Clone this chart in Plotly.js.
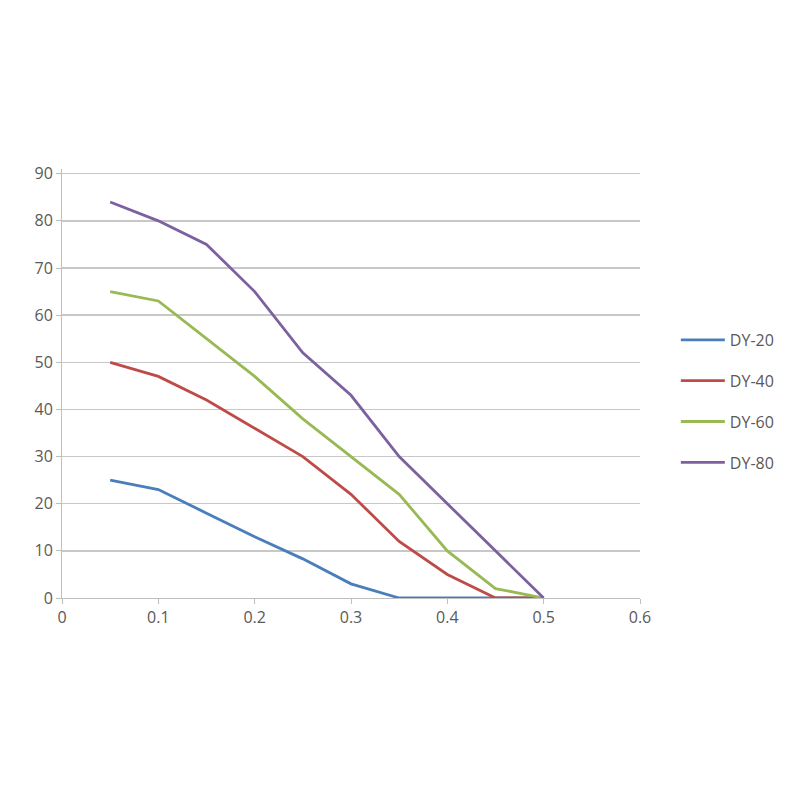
<!DOCTYPE html>
<html>
<head>
<meta charset="utf-8">
<script src="https://cdn.plot.ly/plotly-3.0.1.min.js"></script>
<style>html,body{margin:0;padding:0;background:#fff;}#chart{width:800px;height:800px;}</style>
</head>
<body>
<div id="chart"></div>
<script>
const xValues = [0.05, 0.1, 0.15, 0.2, 0.25, 0.3, 0.35, 0.4, 0.45, 0.5];
const seriesNames = ["DY-20", "DY-40", "DY-60", "DY-80"];
const dy20 = [25, 23, 18, 13, 8.3, 3, 0, 0, 0, 0];
const dy40 = [50, 47, 42, 36, 30, 22, 12, 5, 0, 0];
const dy60 = [65, 63, 55, 47, 38, 30, 22, 10, 2, 0];
const dy80 = [84, 80, 75, 65, 52, 43, 30, 20, 10, 0];
const seriesColors = ["#4A7EBB", "#BE4B48", "#98B954", "#7D60A0"];
const xTicks = [0, 0.1, 0.2, 0.3, 0.4, 0.5, 0.6];
const xTickText = ["0", "0.1", "0.2", "0.3", "0.4", "0.5", "0.6"];
const yTicks = [0, 10, 20, 30, 40, 50, 60, 70, 80, 90];

const allSeries = [dy20, dy40, dy60, dy80];
const traces = allSeries.map((ys, i) => ({
  x: xValues, y: ys, type: "scatter", mode: "lines",
  name: seriesNames[i], legendgroup: "g" + i,
  line: {color: seriesColors[i], width: 2.8}
}));

const font = {family: "Open Sans, Liberation Sans, sans-serif", size: 16, color: "#595959"};
const layout = {
  width: 800, height: 800,
  margin: {l: 62, r: 160, t: 169, b: 202},
  paper_bgcolor: "#fff", plot_bgcolor: "#fff",
  font: font,
  showlegend: true,
  legend: {x: 1.062, xanchor: "left", y: 0.458, yanchor: "middle",
           traceorder: "grouped", tracegroupgap: 17, font: font, itemwidth: 44},
  xaxis: {range: [0, 0.6], tickvals: xTicks, ticktext: xTickText,
          showgrid: false, zeroline: false, showline: true, linecolor: "#bfbfbf", linewidth: 1,
          ticks: "outside", ticklen: 5, tickcolor: "#bfbfbf", tickfont: font},
  yaxis: {range: [0, 91], tickvals: yTicks, showgrid: true, gridcolor: "#c8c8c8", gridwidth: 1.5,
          zeroline: false, showline: true, linecolor: "#bfbfbf", linewidth: 1,
          ticks: "outside", ticklen: 5, tickcolor: "#bfbfbf", tickfont: font}
};
Plotly.newPlot("chart", traces, layout, {displayModeBar: false, staticPlot: true});
</script>
</body>
</html>
